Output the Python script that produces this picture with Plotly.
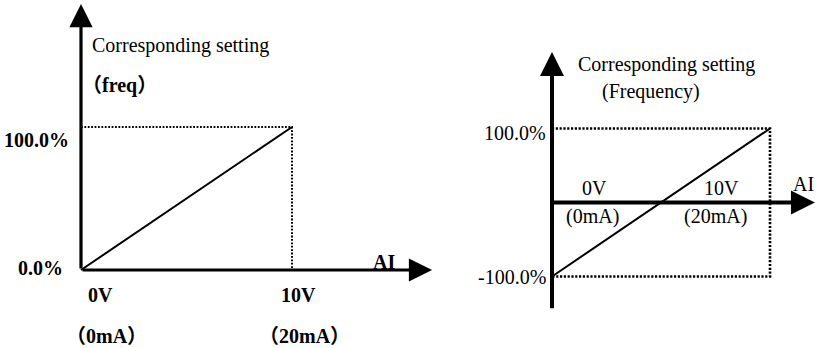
import plotly.graph_objects as go

# analog input -> corresponding frequency setting
ai_volts = [0, 10]
ai_labels_v = ["0V", "10V"]
ai_labels_ma_left = ["（0mA）", "（20mA）"]
ai_labels_ma_right = ["(0mA)", "(20mA)"]
freq_left = [0, 100]
freq_right = [-100, 100]
freq_labels_left = ["0.0%", "100.0%"]
freq_labels_right = ["-100.0%", "100.0%"]

W, H = 816, 348
FONT = "Liberation Serif, Noto Sans CJK SC"


def axis_range(p0, p1, v0, v1, size):
    # range so that value v0 lands on pixel p0 and v1 on pixel p1
    per = (p1 - p0) / (v1 - v0)
    return sorted([v0 - p0 / per, v0 + (size - p0) / per])


fig = go.Figure()

# left panel: 0..10V -> 0..100%
fig.add_trace(go.Scatter(
    x=[ai_volts[0], ai_volts[1], ai_volts[1]],
    y=[freq_left[1], freq_left[1], freq_left[0]],
    mode="lines", line=dict(color="black", width=2, dash="1.8px,1.6px"),
    xaxis="x", yaxis="y", hoverinfo="skip"))
fig.add_trace(go.Scatter(
    x=ai_volts, y=freq_left, mode="lines",
    line=dict(color="black", width=2), xaxis="x", yaxis="y"))

# right panel: 0..10V -> -100..100%
fig.add_trace(go.Scatter(
    x=[ai_volts[0], ai_volts[1], ai_volts[1], ai_volts[0]],
    y=[freq_right[1], freq_right[1], freq_right[0], freq_right[0]],
    mode="lines", line=dict(color="black", width=2.6, dash="2.2px,1.6px"),
    xaxis="x2", yaxis="y2", hoverinfo="skip"))
fig.add_trace(go.Scatter(
    x=ai_volts, y=freq_right, mode="lines",
    line=dict(color="black", width=2), xaxis="x2", yaxis="y2"))

# axis extents (data units) for the hand-drawn arrows
left_x_end, left_y_end = 16.64, 186
right_x_end, right_y_lo, right_y_hi = 12.06, -145, 203.4

annotations = []


def arrow(xr, yr, x0, y0, x1, y1, w, size):
    annotations.append(dict(
        xref=xr, yref=yr, axref=xr, ayref=yr, x=x1, y=y1, ax=x0, ay=y0,
        text="", showarrow=True, arrowhead=2, arrowwidth=w, arrowsize=size,
        arrowcolor="black", standoff=0))


arrow("x", "y", 0, 0, left_x_end, 0, 3.2, 1.45)
arrow("x", "y", 0, 0, 0, left_y_end, 3.2, 1.45)
arrow("x2", "y2", 0, 0, right_x_end, 0, 4, 1.2)
arrow("x2", "y2", 0, right_y_lo, 0, right_y_hi, 4, 1.2)


def label(xr, yr, x, y, text, anchor, dx, dy, bold):
    annotations.append(dict(
        xref=xr, yref=yr, x=x, y=y, text=text, showarrow=False,
        xanchor=anchor, yanchor="middle", xshift=dx, yshift=dy, borderpad=0,
        font=dict(family=FONT, size=20, color="black",
                  weight="bold" if bold else "normal")))


# left panel labels
label("x", "y", 0, freq_left[1], freq_labels_left[1], "right", -11, -13, True)
label("x", "y", 0, freq_left[0], freq_labels_left[0], "right", -17, 2, True)
label("x", "y", ai_volts[0], 0, ai_labels_v[0], "left", 6, -25, True)
label("x", "y", ai_volts[1], 0, ai_labels_v[1], "left", -12, -25, True)
label("x", "y", ai_volts[0], 0, ai_labels_ma_left[0], "left", -16, -66, True)
label("x", "y", ai_volts[1], 0, ai_labels_ma_left[1], "left", -34, -66, True)
label("x", "y", left_x_end, 0, "AI", "right", -36, 8, True)
label("x", "y", 0, left_y_end, "Corresponding setting", "left", 10, -41, False)
label("x", "y", 0, left_y_end, "（freq）", "left", 0, -81, True)

# right panel labels
label("x2", "y2", 0, freq_right[1], freq_labels_right[1], "right", -5, -4, False)
label("x2", "y2", 0, freq_right[0], freq_labels_right[0], "right", -5, 0, False)
label("x2", "y2", ai_volts[0], 0, ai_labels_v[0], "left", 29, 15, False)
label("x2", "y2", ai_volts[1], 0, ai_labels_v[1], "left", -67, 15, False)
label("x2", "y2", ai_volts[0], 0, ai_labels_ma_right[0], "left", 13, -14, False)
label("x2", "y2", ai_volts[1], 0, ai_labels_ma_right[1], "left", -87, -14, False)
label("x2", "y2", right_x_end, 0, "AI", "left", -23, 19, False)
label("x2", "y2", 0, right_y_hi, "Corresponding setting", "left", 25, -13, False)
label("x2", "y2", 0, right_y_hi, "(Frequency)", "left", 49, -40, False)

hidden = dict(visible=False, fixedrange=True, domain=[0, 1])
fig.update_layout(
    width=W, height=H,
    margin=dict(l=0, r=0, t=0, b=0),
    paper_bgcolor="white", plot_bgcolor="white",
    showlegend=False,
    xaxis=dict(hidden, range=axis_range(81, 292, 0, 10, W)),
    yaxis=dict(hidden, range=axis_range(270, 127, 0, 100, H)),
    xaxis2=dict(hidden, range=axis_range(552, 770, 0, 10, W), overlaying="x"),
    yaxis2=dict(hidden, range=axis_range(276.5, 128.5, -100, 100, H), overlaying="y"),
    annotations=annotations,
)

fig.write_html("out.html", config={"displayModeBar": False},
               post_script="document.body.style.margin='0';")
